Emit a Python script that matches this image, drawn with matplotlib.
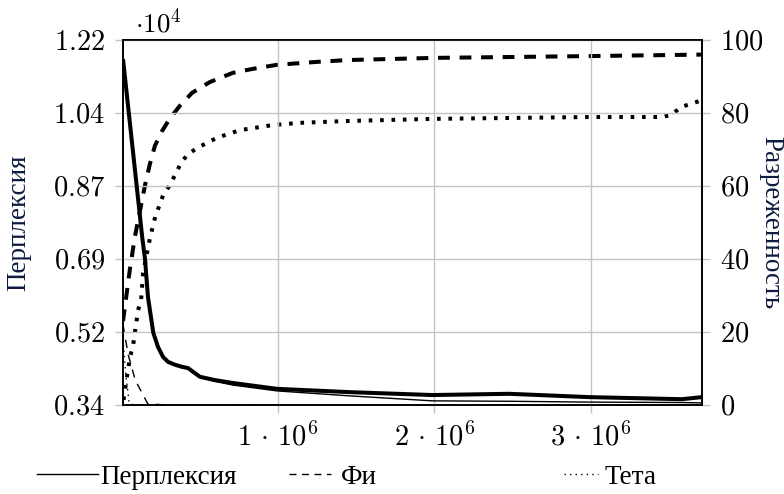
import numpy as np
import matplotlib
matplotlib.use("Agg")
import matplotlib.pyplot as plt
from matplotlib.ticker import FixedLocator, FuncFormatter
from matplotlib.lines import Line2D

plt.rcParams['mathtext.fontset'] = 'cm'
plt.rcParams['font.family'] = ['Liberation Serif', 'DejaVu Serif']
plt.rcParams['lines.scale_dashes'] = False

# ---- data (x in 1e6 iterations) ----
perp_x = [0.0115, 0.134, 0.152, 0.171, 0.205, 0.235, 0.267, 0.299, 0.344, 0.388,
          0.427, 0.459, 0.503, 0.599, 0.714, 0.994, 1.459, 1.987, 2.478, 2.987,
          3.580, 3.709]
perp_main = [11740, 7450, 6920, 6000, 5140, 4800, 4560, 4440, 4370, 4320,
             4290, 4200, 4080, 4000, 3930, 3790, 3710, 3640, 3670, 3590,
             3540, 3590]
perp_alt = [11740, 7450, 6920, 6000, 5140, 4800, 4560, 4440, 4370, 4320,
            4290, 4190, 4060, 3970, 3880, 3740, 3620, 3500, 3490, 3470,
            3460, 3450]

phi_x = [0.0115, 0.055, 0.087, 0.119, 0.151, 0.183, 0.215, 0.260, 0.311, 0.375,
         0.452, 0.567, 0.713, 0.841, 0.994, 1.248, 1.44, 2.0, 3.0, 3.709]
phi_main = [23.0, 37.0, 46.0, 53.0, 60.0, 66.0, 71.0, 75.0, 78.5, 82.0,
            85.5, 88.5, 91.0, 92.1, 93.2, 94.0, 94.5, 95.1, 95.6, 96.0]
phi_alt_x = [0.0115, 0.045, 0.090, 0.170, 0.300, 3.709]
phi_alt = [22.0, 13.7, 6.8, 0.3, 0.0, 0.0]

theta_x = [0.015, 0.045, 0.057, 0.076, 0.108, 0.127, 0.140, 0.166, 0.185, 0.217,
           0.268, 0.312, 0.376, 0.420, 0.484, 0.611, 0.758, 0.968, 1.140, 1.44,
           2.0, 3.0, 3.45, 3.516, 3.573, 3.637, 3.709]
theta_main = [1.4, 10.1, 13.2, 16.4, 26.0, 28.8, 36.2, 41.9, 46.0, 51.5,
              57.5, 60.3, 65.8, 68.5, 70.4, 73.2, 75.3, 76.7, 77.3, 77.8,
              78.4, 78.9, 78.9, 79.5, 81.6, 82.5, 83.5]
theta_alt_x = [0.0115, 0.030, 0.050, 0.080, 3.709]
theta_alt = [18.0, 8.0, 1.0, 0.0, 0.0]

left_ticks = np.linspace(3400, 12200, 6)
right_ticks = [0, 20, 40, 60, 80, 100]
x_ticks = [1, 2, 3]

legend_labels = ['Перплексия', 'Фи', 'Тета']

# ---- figure ----
fig = plt.figure(figsize=(7.84, 4.94), dpi=100)
ax = fig.add_axes([123/784, 1-405/494, (702-123)/784, (405-40)/494])
ax2 = ax.twinx()

grid_c = '#c4c4c4'
lab_c = '#0d1b3e'
fs = 20.5

thick = 2.9
thin = 1.0
dash_thick = (0, (8.5, 7.0))
dot_thick = (0, (2.6, 5.6))
dash_thin = (0, (6, 5))
dot_thin = (0, (1, 3))

ax.plot(perp_x, perp_alt, color='black', lw=thin, solid_capstyle='butt', zorder=3)
ax.plot(perp_x, perp_main, color='black', lw=thick, solid_capstyle='butt',
        solid_joinstyle='round', zorder=3)

ax2.plot(phi_x, phi_main, color='black', lw=thick, linestyle=dash_thick, dash_capstyle='butt')
ax2.plot(phi_alt_x, phi_alt, color='black', lw=thin, linestyle=dash_thin)
ax2.plot(theta_x, theta_main, color='black', lw=thick, linestyle=dot_thick, dash_capstyle='butt')
ax2.plot(theta_alt_x, theta_alt, color='black', lw=thin, linestyle=dot_thin)

ax.set_xlim(0.0115, 3.709)
ax.set_ylim(3400, 12200)
ax2.set_ylim(0, 100)

ax.xaxis.set_major_locator(FixedLocator(x_ticks))
ax.xaxis.set_major_formatter(FuncFormatter(lambda v, p: r'$%d\,\cdot\,10^{6}$' % round(v)))
ax.yaxis.set_major_locator(FixedLocator(left_ticks))
ax.yaxis.set_major_formatter(FuncFormatter(lambda v, p: r'$%.2f$' % (v / 1e4)))
ax2.yaxis.set_major_locator(FixedLocator(right_ticks))
ax2.yaxis.set_major_formatter(FuncFormatter(lambda v, p: r'$%d$' % v))

ax.grid(True, color=grid_c, lw=1.0)
ax.set_axisbelow(True)
for a in (ax, ax2):
    a.tick_params(axis='both', length=6, width=1.0, color=grid_c, labelsize=fs, pad=7)
    for s in a.spines.values():
        s.set_linewidth(1.2)
        s.set_color('black')
ax.set_zorder(ax2.get_zorder() + 1)
ax.patch.set_visible(False)

ax.set_ylabel('Перплексия', fontsize=19.5, color=lab_c, va='center')
ax.yaxis.set_label_coords((19-123)/579, 0.5)
ax2.set_ylabel('Разреженность', fontsize=19.5, color=lab_c, rotation=270, va='center')
ax2.yaxis.set_label_coords((771-123)/579, 0.5)

ax.text(0.02, 1.005, r'$\cdot 10^{4}$', transform=ax.transAxes, fontsize=19.5,
        ha='left', va='bottom')

# ---- legend (three groups, like the reference) ----
handles = [Line2D([], [], color='black', lw=1.0),
           Line2D([], [], color='black', lw=1.0, linestyle=(0, (5, 4))),
           Line2D([], [], color='black', lw=1.0, linestyle=(0, (1, 3)))]
positions = [(37/784, 1-477/494, 2.25, 0.1), (289/784, 1-477/494, 1.55, 0.35),
             (564/784, 1-477/494, 1.25, 0.25)]
for h, lab, (px, py, hl, tp) in zip(handles, legend_labels, positions):
    fig.legend(handles=[h], labels=[lab], loc='center left', bbox_to_anchor=(px, py),
               frameon=False, fontsize=19.5, handlelength=hl, handletextpad=tp,
               borderpad=0, borderaxespad=0)

fig.savefig('out.png', dpi=100)
